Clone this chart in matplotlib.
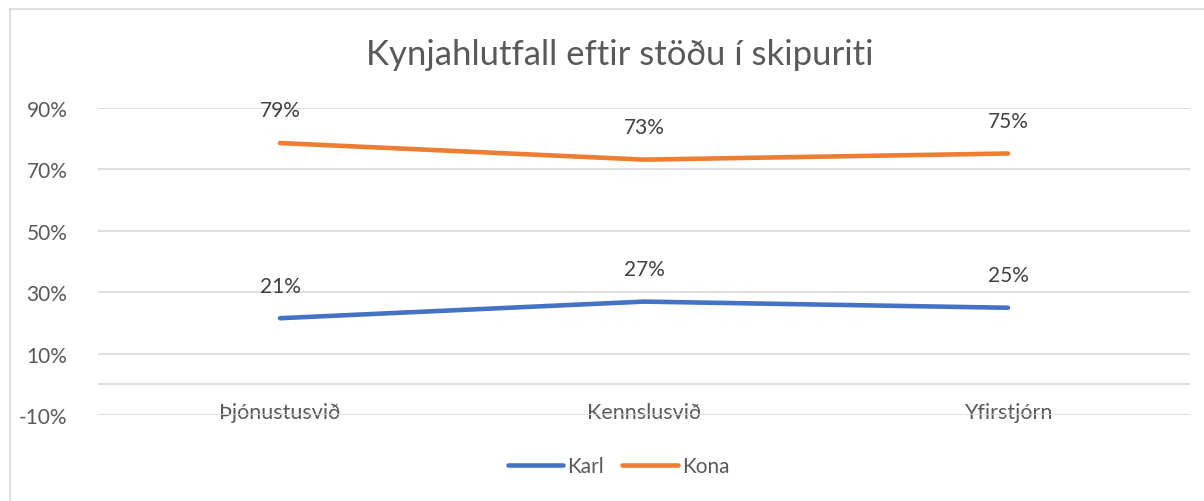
import matplotlib
matplotlib.use("Agg")
import matplotlib.pyplot as plt
from matplotlib.patches import Rectangle

categories = ["Þjónustusvið", "Kennslusvið", "Yfirstjórn"]
karl = [21.5, 26.9, 24.9]
kona = [78.5, 73.1, 75.1]
karl_labels = ["21%", "27%", "25%"]
kona_labels = ["79%", "73%", "75%"]
yticks = [-10, 10, 30, 50, 70, 90]

plt.rcParams['font.family'] = ['Lato', 'DejaVu Sans']
txt = '#595959'
grid = '#D9D9D9'
blue = '#4472C4'
orange = '#ED7D31'

fig = plt.figure(figsize=(12.04, 5.02), dpi=100)
fig.patches.append(Rectangle((10/1204, -0.05), 1.2, 1 - 10/502 + 0.05,
                             transform=fig.transFigure, fill=False,
                             edgecolor=grid, linewidth=1.2))

ax = fig.add_axes([98/1204, 1 - 416/502, (1190 - 98)/1204, (416 - 108.7)/502])
x = list(range(len(categories)))
ax.plot(x, karl, color=blue, lw=3.3, solid_capstyle='round', label='Karl')
ax.plot(x, kona, color=orange, lw=3.3, solid_capstyle='round', label='Kona')

for xi, v, lab in zip(x, karl, karl_labels):
    ax.annotate(lab, (xi, v), xytext=(0, 23.5), textcoords='offset points',
                ha='center', va='center', fontsize=15, color='#404040')
for xi, v, lab in zip(x, kona, kona_labels):
    ax.annotate(lab, (xi, v), xytext=(0, 23.5), textcoords='offset points',
                ha='center', va='center', fontsize=15, color='#404040')

ax.set_xlim(-0.5, 2.5)
ax.set_ylim(-10, 90)
ax.set_yticks(yticks)
ax.set_yticklabels([f"{t}%" for t in yticks])
ax.set_xticks(x)
ax.set_xticklabels(categories)
ax.tick_params(axis='y', length=0, pad=22, labelsize=15, labelcolor=txt)
ax.tick_params(axis='x', length=0, pad=-2, labelsize=15.5, labelcolor=txt)
for lab in ax.get_xticklabels():
    lab.set_va('center')
ax.grid(axis='y', color=grid, lw=1.2)
ax.axhline(0, color=grid, lw=1.2, zorder=0.5)
ax.set_axisbelow(True)
for s in ax.spines.values():
    s.set_visible(False)

fig.text(0.5145, 1 - 55/502, "Kynjahlutfall eftir stöðu í skipuriti", ha='center',
         va='center', fontsize=25, color=txt)

fig.legend(loc='center', bbox_to_anchor=(0.5137, 1 - 467/502), ncol=2, frameon=False,
           fontsize=15, labelcolor=txt, handlelength=2.65, handletextpad=0.2,
           columnspacing=0.9)

fig.savefig("out.png", dpi=100)
